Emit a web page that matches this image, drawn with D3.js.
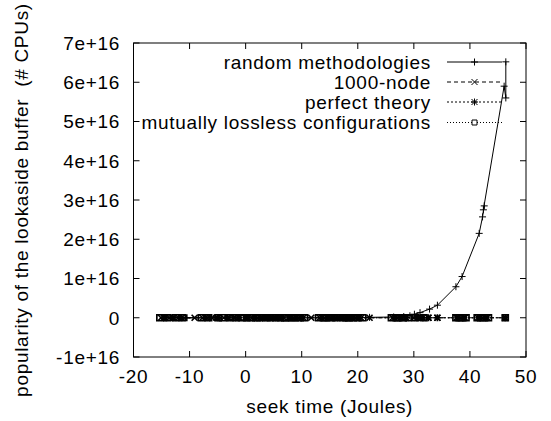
<!DOCTYPE html>
<html><head><meta charset="utf-8">
<script src="https://cdn.jsdelivr.net/npm/d3@7"></script>
<style>
html,body{margin:0;padding:0;background:#fff;}
text{font-family:"Liberation Sans",Arial,Helvetica,sans-serif;font-size:19px;fill:#000;letter-spacing:0.7px;white-space:pre;}
</style></head>
<body><svg id="chart" width="551" height="421"></svg>
<script>
// ---- data (y in raw units) ----
const seriesNames = ["random methodologies", "1000-node", "perfect theory", "mutually lossless configurations"];

const randomX = [-14.2,-10.5,-6.4,-1.8,2.6,6.5,9.8,14.3,18.9,22.1,26.4,28.2,29.3,30.1,31.1,32.8,34.2,37.5,38.6,41.65,42.25,42.55,42.4,46.1,46.4,46.4];
const randomY = [0,0,0,0,0,0,0,0,0,0.01e16,0.02e16,0.03e16,0.05e16,0.09e16,0.13e16,0.22e16,0.32e16,0.79e16,1.05e16,2.15e16,2.57e16,2.85e16,2.75e16,5.9e16,5.6e16,6.52e16];

const nodeX = [-15.1,-14.3,-13.6,-12.8,-12.0,-9.1,-7.7,-6.9,-6.0,-5.2,-3.9,-3.0,-2.2,-1.1,-0.1,1.2,2.1,3.0,3.9,4.9,5.8,6.8,7.6,8.5,9.4,10.3,11.7,13.2,14.1,15.0,15.9,16.8,17.7,18.6,19.6,20.6,22.1,26.2,27.0,27.8,28.6,30.0,31.2,32.6,34.2,37.6,38.4,39.1,41.4,42.2,43.1,46.3];
const nodeY = nodeX.map(()=>0);

const perfectX = [-14.6,-13.0,-11.4,-7.2,-5.0,-3.2,-1.3,0.2,1.6,2.6,3.4,4.4,5.3,6.3,8.0,8.9,9.9,13.6,14.6,15.5,16.4,17.3,18.2,19.1,20.2,26.6,27.6,28.6,30.6,31.6,32.6,34.2,37.9,38.9,41.8,42.8,46.3];
const perfectY = perfectX.map(()=>0);

const losslessX = [-15.3,-14.0,-12.5,-11.3,-7.9,-6.6,-4.9,-4.1,-2.8,-1.7,-0.6,0.2,1.0,1.8,2.5,3.6,4.4,5.4,6.2,7.0,7.3,8.2,8.8,9.7,10.5,13.0,13.9,14.4,15.3,16.2,17.4,18.0,18.4,19.2,20.0,20.9,26.0,26.9,27.3,28.1,29.0,30.3,31.8,37.5,38.1,38.7,39.3,41.3,41.9,42.6,43.3,46.3];
const losslessY = losslessX.map(()=>0);

const xTicks = [-20,-10,0,10,20,30,40,50];
const yTicks = [-1e16,0,1e16,2e16,3e16,4e16,5e16,6e16,7e16];
const yTickLabels = ["-1e+16","0","1e+16","2e+16","3e+16","4e+16","5e+16","6e+16","7e+16"];
const xLabel = "seek time (Joules)";
const yLabel = "popularity of the lookaside buffer  (# CPUs)";

// ---- layout ----
const svg = d3.select("#chart");
const L = 133.5, R = 526, T = 43, B = 357;
const x = d3.scaleLinear().domain([-20,50]).range([L,R]);
const y = d3.scaleLinear().domain([-1e16,7e16]).range([B,T]);
const tickLen = 6;

const zip = (xs,ys)=>xs.map((v,i)=>[v,ys[i]]);
const series = [
  {name:seriesNames[0], data:zip(randomX,randomY), dash:null, marker:"plus"},
  {name:seriesNames[1], data:zip(nodeX,nodeY), dash:"4,3", marker:"cross"},
  {name:seriesNames[2], data:zip(perfectX,perfectY), dash:"2,2", marker:"star"},
  {name:seriesNames[3], data:zip(losslessX,losslessY), dash:"1,2", marker:"square"}
];

function markerPath(type){
  const s=3.5, c=3;
  switch(type){
    case "plus": return `M${-s},0H${s}M0,${-s}V${s}`;
    case "cross": return `M${-c},${-c}L${c},${c}M${-c},${c}L${c},${-c}`;
    case "star": return `M${-s},0H${s}M0,${-s}V${s}M${-c},${-c}L${c},${c}M${-c},${c}L${c},${-c}`;
    case "square": return `M-3,-3H3V3H-3Z`;
  }
}

const line = d3.line().x(d=>x(d[0])).y(d=>y(d[1]));

// axes ticks (inward, mirrored)
const g = svg.append("g");
xTicks.forEach(t=>{
  g.append("line").attr("x1",x(t)).attr("x2",x(t)).attr("y1",B).attr("y2",B-tickLen).attr("stroke","#000");
  g.append("line").attr("x1",x(t)).attr("x2",x(t)).attr("y1",T).attr("y2",T+tickLen).attr("stroke","#000");
  g.append("text").attr("x",x(t)).attr("y",383).attr("text-anchor","middle").text(t);
});
yTicks.forEach((t,i)=>{
  g.append("line").attr("x1",L).attr("x2",L+tickLen).attr("y1",y(t)).attr("y2",y(t)).attr("stroke","#000");
  g.append("line").attr("x1",R).attr("x2",R-tickLen).attr("y1",y(t)).attr("y2",y(t)).attr("stroke","#000");
  g.append("text").attr("x",120).attr("y",y(t)+6.8).attr("text-anchor","end").text(yTickLabels[i]);
});

// series
series.slice().reverse().forEach(s=>{
  const sg = svg.append("g");
  sg.append("path").datum(s.data).attr("d",line).attr("fill","none").attr("stroke","#000")
    .attr("stroke-width",1).attr("stroke-dasharray",s.dash);
  sg.selectAll("path.m").data(s.data).enter().append("path").attr("class","m")
    .attr("transform",d=>`translate(${x(d[0])},${y(d[1])})`)
    .attr("d",markerPath(s.marker)).attr("fill","none")
    .attr("stroke","#000").attr("stroke-width",d=>d[1]===0?1.7:1);
});

// border
svg.append("rect").attr("x",L).attr("y",T).attr("width",R-L).attr("height",B-T)
  .attr("fill","none").attr("stroke","#000").attr("stroke-width",1);

// legend
const legY = [62,82,102,122.5];
series.forEach((s,i)=>{
  const ly = legY[i];
  svg.append("text").attr("x",431).attr("y",ly+6.8).attr("text-anchor","end").text(s.name);
  svg.append("line").attr("x1",447).attr("x2",502).attr("y1",ly).attr("y2",ly)
    .attr("stroke","#000").attr("stroke-width",1).attr("stroke-dasharray",s.dash);
  svg.append("path").attr("transform",`translate(474.5,${ly})`)
    .attr("d",s.marker==="square"?"M-2.5,-2.5H2.5V2.5H-2.5Z":markerPath(s.marker))
    .attr("fill",s.marker==="square"?"#fff":"none").attr("stroke","#000");
});

// axis labels
svg.append("text").attr("x",(L+R)/2).attr("y",413).attr("text-anchor","middle").text(xLabel);
svg.append("text").attr("transform",`translate(28,${(T+B)/2}) rotate(-90)`).attr("text-anchor","middle").text(yLabel);
</script></body></html>
